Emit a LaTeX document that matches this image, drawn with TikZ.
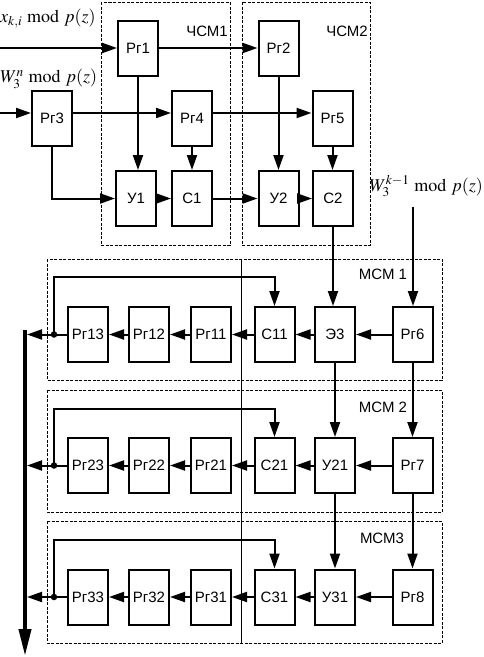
\documentclass[tikz,border=0pt]{standalone}
\usepackage{mathptmx}
\usepackage[no-math]{fontspec}
\setmainfont{Liberation Sans}
\newfontfamily\labfont{Liberation Sans}
\usetikzlibrary{arrows.meta}
\begin{document}
\begin{tikzpicture}[x=1pt,y=-1pt,
  blk/.style={draw,line width=2pt,minimum width=40pt,minimum height=55pt,inner sep=0pt,font=\labfont\fontsize{15}{15}\selectfont},
  grp/.style={draw,line width=1pt,dash pattern=on 3pt off 1.5pt},
  con/.style={line width=2pt},
  arr/.style={con,-{Triangle[length=15pt,width=10pt]}},
  lbl/.style={font=\labfont\fontsize{15}{15}\selectfont,inner sep=0pt},
  mlbl/.style={font=\fontsize{18}{18}\selectfont,inner sep=0pt},
  dotn/.style={circle,fill,inner sep=0pt,minimum size=6.5pt}]
\useasboundingbox (0,0) rectangle (483,657);
% dashed group frames
\draw[grp] (101,2) rectangle (230,245);
\draw[grp] (242,2) rectangle (370,245);
\draw[grp] (47,259) rectangle (442,380);
\draw[grp] (47,390) rectangle (442,512);
\draw[grp] (47,521) rectangle (442,643);
\draw[line width=0.8pt] (241,259) -- (241,643);
% group labels
\node[lbl] (t1) at (207,31) {ЧСМ1};
\node[lbl] (t2) at (347,31) {ЧСМ2};
\node[lbl] (t3) at (383,274) {МСМ 1};
\node[lbl] (t4) at (383,407) {МСМ 2};
\node[lbl] (t5) at (382,538) {МСМ3};
% input labels
\node[mlbl,anchor=west] (in1) at (0,19) {$x_{k,i}\ \mathrm{mod}\ p(z)$};
\node[mlbl,anchor=west] (in2) at (0,79) {$W_3^{n}\ \mathrm{mod}\ p(z)$};
\node[mlbl,anchor=east] (in3) at (483,186) {$W_3^{k-1}\ \mathrm{mod}\ p(z)$};
\coordinate (s1) at (0,48);
\coordinate (s2) at (0,113);
\coordinate (s3) at (413,207);
% top blocks
\node[blk] (r1) at (138,48) {Рг1};
\node[blk] (r2) at (278.5,48) {Рг2};
\node[blk] (r3) at (52,118.5) {Рг3};
\node[blk] (r4) at (192,118.5) {Рг4};
\node[blk] (r5) at (332.5,118.5) {Рг5};
\node[blk] (u1) at (136,198.5) {У1};
\node[blk] (c1) at (192,198.5) {С1};
\node[blk] (u2) at (278.5,198.5) {У2};
\node[blk] (c2) at (333,198.5) {С2};
% row 1
\node[blk] (r13) at (88,334.5) {Рг13};
\node[blk] (r12) at (149,334.5) {Рг12};
\node[blk] (r11) at (211,334.5) {Рг11};
\node[blk] (c11) at (274.5,334.5) {С11};
\node[blk] (e3) at (335,334.5) {Э3};
\node[blk] (r6) at (412.5,334.5) {Рг6};
% row 2
\node[blk] (r23) at (88,465.5) {Рг23};
\node[blk] (r22) at (149,465.5) {Рг22};
\node[blk] (r21) at (211,465.5) {Рг21};
\node[blk] (c21) at (274.5,465.5) {С21};
\node[blk] (u21) at (335,465.5) {У21};
\node[blk] (r7) at (412.5,465.5) {Рг7};
% row 3
\node[blk] (r33) at (88,597) {Рг33};
\node[blk] (r32) at (149,597) {Рг32};
\node[blk] (r31) at (211,597) {Рг31};
\node[blk] (c31) at (274.5,597) {С31};
\node[blk] (u31) at (335,597) {У31};
\node[blk] (r8) at (412.5,597) {Рг8};
% dots and bus points
\node[dotn] (d1) at (54,334.5) {};
\node[dotn] (d2) at (54,465.5) {};
\node[dotn] (d3) at (54,597) {};
\coordinate (k1) at (27,334.5);
\coordinate (k2) at (27,465.5);
\coordinate (k3) at (27,597);
\coordinate (f1) at (54,277);
\coordinate (f2) at (54,409);
\coordinate (f3) at (54,540);
\coordinate (bt) at (25,330);
\coordinate (bb) at (25,656);
% top connectors
\draw[arr] (s1) -- (r1.west);
\draw[arr] (r1) -- (r2);
\draw[arr] (s2) -- ([yshift=5.5pt]r3.west);
\draw[arr] ([yshift=5.5pt]r3.east) -- ([yshift=5.5pt]r4.west);
\draw[arr] ([yshift=5.5pt]r4.east) -- ([yshift=5.5pt]r5.west);
\draw[arr] (r1.south) -- (r1.south |- u1.north);
\draw[arr] (r4.south) -- (r4.south |- c1.north);
\draw[arr] (r2.south) -- (r2.south |- u2.north);
\draw[arr] (r5.south) -- (r5.south |- c2.north);
\draw[arr] (r3.south) |- (u1.west);
\draw[arr] (u1) -- (c1);
\draw[arr] (c1) -- (u2);
\draw[arr] (u2) -- (c2);
\draw[arr] (c2.south) -- (c2.south |- e3.north);
\draw[arr] (s3) -- (s3 |- r6.north);
% row connectors
\draw[arr] (r6) -- (e3);
\draw[arr] (e3) -- (c11);
\draw[arr] (c11) -- (r11);
\draw[arr] (r11) -- (r12);
\draw[arr] (r12) -- (r13);
\draw[con] (r13) -- (d1.center);
\draw[arr] (d1.center) -- (k1);
\draw[arr] (d1.center) -- (f1) -| (c11.north);
\draw[arr] (r7) -- (u21);
\draw[arr] (u21) -- (c21);
\draw[arr] (c21) -- (r21);
\draw[arr] (r21) -- (r22);
\draw[arr] (r22) -- (r23);
\draw[con] (r23) -- (d2.center);
\draw[arr] (d2.center) -- (k2);
\draw[arr] (d2.center) -- (f2) -| (c21.north);
\draw[arr] (r8) -- (u31);
\draw[arr] (u31) -- (c31);
\draw[arr] (c31) -- (r31);
\draw[arr] (r31) -- (r32);
\draw[arr] (r32) -- (r33);
\draw[con] (r33) -- (d3.center);
\draw[arr] (d3.center) -- (k3);
\draw[arr] (d3.center) -- (f3) -| (c31.north);
% between rows
\draw[arr] (e3.south) -- (e3.south |- u21.north);
\draw[arr] (r6) -- (r7);
\draw[arr] (u21) -- (u31);
\draw[arr] (r7) -- (r8);
% output bus
\draw[line width=4pt,-{Triangle[length=27pt,width=12pt]}] (bt) -- (bb);
\end{tikzpicture}
\end{document}
